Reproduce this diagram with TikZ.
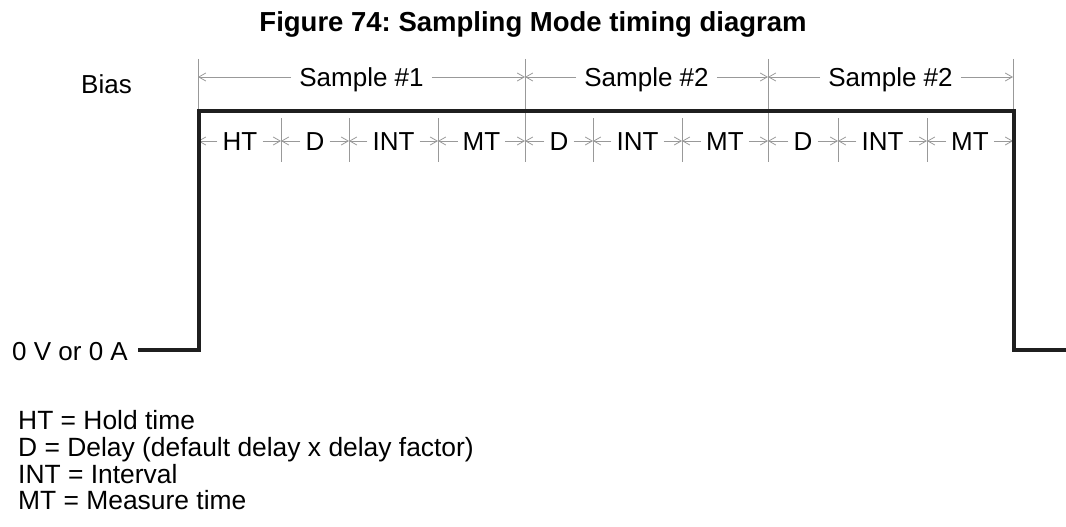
\documentclass[tikz,border=0pt]{standalone}
\usepackage{fontspec}
\setmainfont{Liberation Sans}
\frenchspacing
\usetikzlibrary{arrows.meta}
\tikzset{
  txt/.style={font=\fontsize{26}{26}\selectfont, inner sep=0pt},
  leg/.style={font=\fontsize{26.4}{26}\selectfont, inner sep=0pt, anchor=base west},
  lab/.style={txt, text height=18.6pt, text depth=0pt, inner xsep=5pt, inner ysep=0pt, anchor=center},
  dim/.style={draw=black!40, line width=0.8pt, -{Straight Barb[length=7pt,width=8pt]}},
  tick/.style={draw=black!40, line width=0.8pt},
  wave/.style={draw=black!88, line width=3.2pt, line join=miter},
}
\begin{document}
\begin{tikzpicture}[x=1pt,y=-1pt]
\useasboundingbox (0,0) rectangle (1066,527);
% title
\node[inner sep=0pt, font=\fontsize{27.5}{27.5}\selectfont\bfseries, anchor=base] (title) at (533,32) {Figure 74: Sampling Mode timing diagram};
% labels left
\node[txt, anchor=base west] (bias) at (81,94) {Bias};
\node[txt, anchor=base west] (zero) at (12,360) {0 V or 0 A};
% boundary coordinates (upper row y=77, lower row y=141)
\foreach \n/\x in {b0/198,b1/525,b2/768,b3/1013}{
  \coordinate (\n t) at (\x,59);
  \coordinate (\n u) at (\x,77);
  \coordinate (\n l) at (\x,141);
  \coordinate (\n b) at (\x,162);
}
\foreach \n/\x in {c1/281,c2/349,c3/438,c4/593,c5/682,c6/838,c7/927}{
  \coordinate (\n t) at (\x,118);
  \coordinate (\n l) at (\x,141);
  \coordinate (\n b) at (\x,162);
}
% boundary lines
\foreach \n in {b0,b1,b2,b3}{\draw[tick] (\n t) -- (\n b);}
\foreach \n in {c1,c2,c3,c4,c5,c6,c7}{\draw[tick] (\n t) -- (\n b);}
% upper row: samples
\node[lab, inner xsep=8pt] (s1) at (361.5,77) {Sample \#1};
\node[lab, inner xsep=8pt] (s2) at (646.5,77) {Sample \#2};
\node[lab, inner xsep=8pt] (s3) at (890.5,77) {Sample \#2};
\draw[dim] (s1.west) -- (b0u);
\draw[dim] (s1.east) -- (b1u);
\draw[dim] (s2.west) -- (b1u);
\draw[dim] (s2.east) -- (b2u);
\draw[dim] (s3.west) -- (b2u);
\draw[dim] (s3.east) -- (b3u);
% lower row: segments
\node[lab] (ht)  at (240,141) {HT};
\node[lab] (d1)  at (315,141) {D};
\node[lab] (i1)  at (393.5,141) {INT};
\node[lab] (m1)  at (481.5,141) {MT};
\node[lab] (d2)  at (559,141) {D};
\node[lab] (i2)  at (637.5,141) {INT};
\node[lab] (m2)  at (725,141) {MT};
\node[lab] (d3)  at (803,141) {D};
\node[lab] (i3)  at (882.5,141) {INT};
\node[lab] (m3)  at (970,141) {MT};
\foreach \lab/\l/\r in {ht/b0/c1, d1/c1/c2, i1/c2/c3, m1/c3/b1, d2/b1/c4, i2/c4/c5, m2/c5/b2, d3/b2/c6, i3/c6/c7, m3/c7/b3}{
  \draw[dim] (\lab.west) -- (\l l);
  \draw[dim] (\lab.east) -- (\r l);
}
% waveform
\coordinate (w0) at (138,350);
\coordinate (w1) at (199,350);
\coordinate (w2) at (199,111);
\coordinate (w3) at (1014,111);
\coordinate (w4) at (1014,350);
\coordinate (w5) at (1066,350);
\draw[wave] (w0) -- (w1) -- (w2) -- (w3) -- (w4) -- (w5);
% legend
\node[leg] (l1) at (18,429) {HT = Hold time};
\node[leg] (l2) at (18,456) {D = Delay (default delay x delay factor)};
\node[leg] (l3) at (18,483) {INT = Interval};
\node[leg] (l4) at (18,509) {MT = Measure time};
\end{tikzpicture}
\end{document}
